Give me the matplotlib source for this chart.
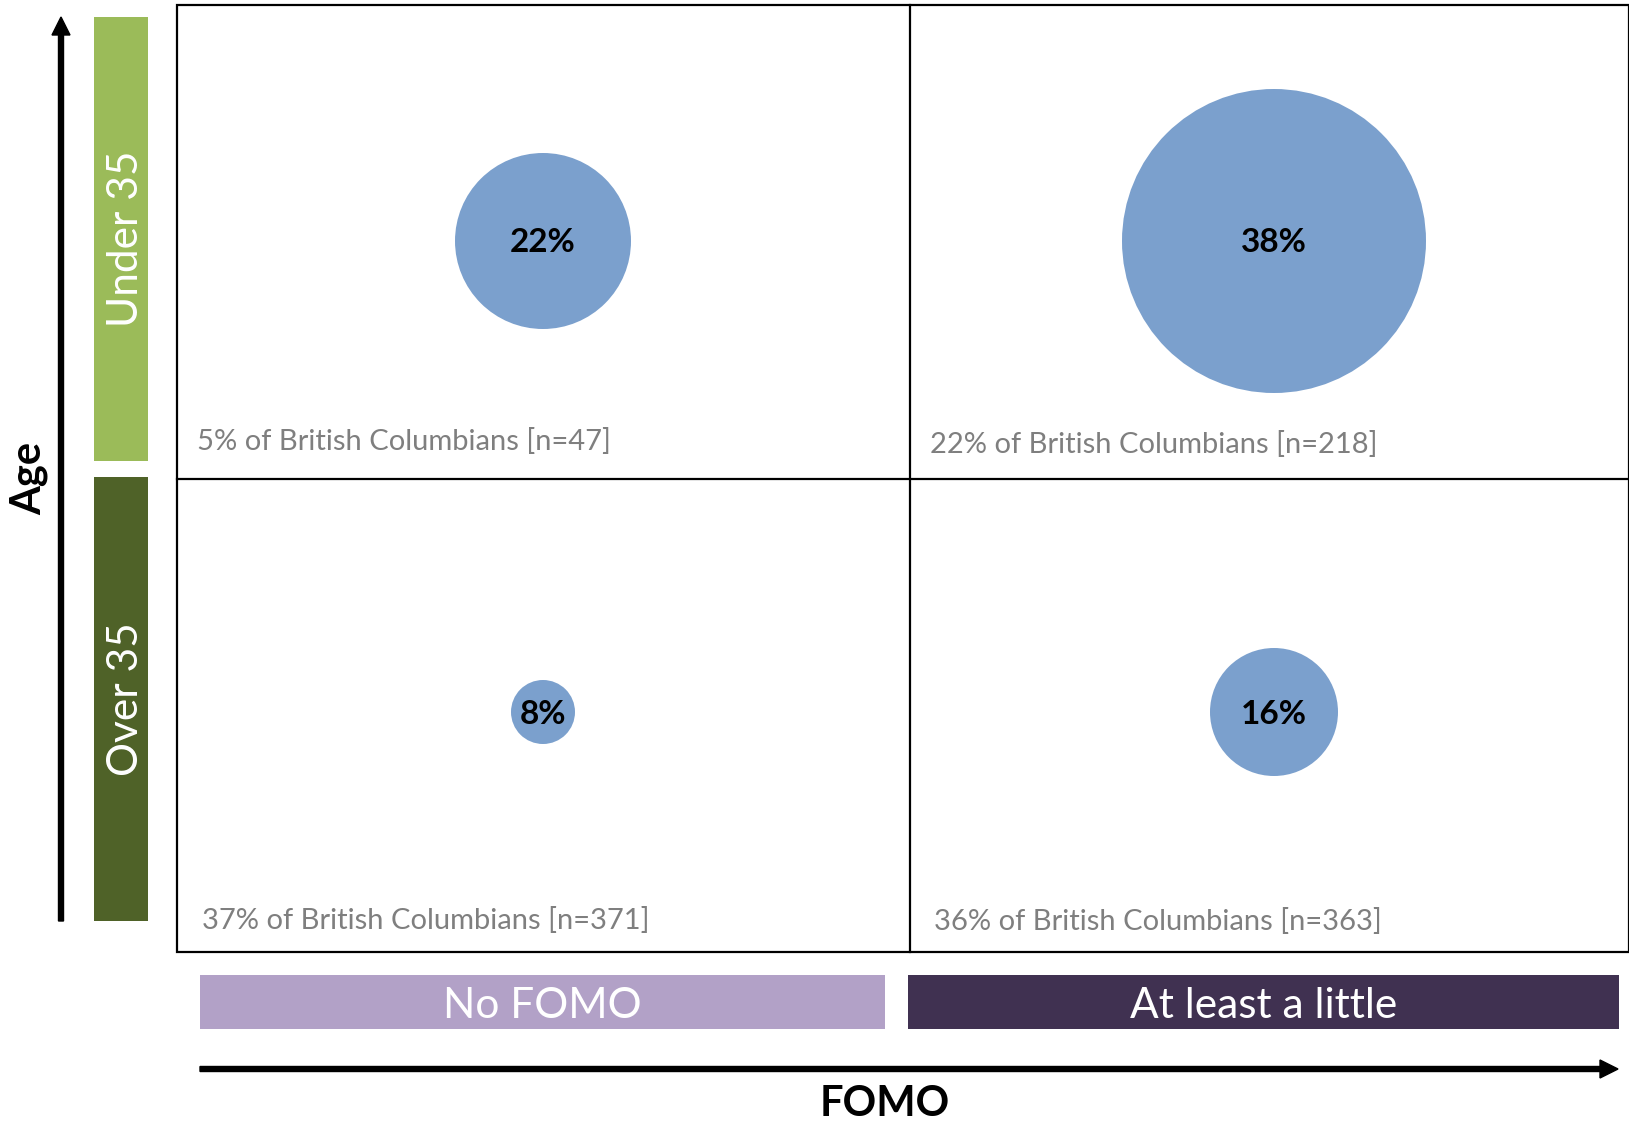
import matplotlib
matplotlib.use('Agg')
import matplotlib.pyplot as plt
from matplotlib.patches import Rectangle, Circle

plt.rcParams['font.family'] = ['Lato', 'DejaVu Sans']

# data
fomo_cats = ['No FOMO', 'At least a little']
age_cats = ['Under 35', 'Over 35']
# share within age group with each FOMO level, rows = age, cols = fomo
pct = [[22, 38],
       [8, 16]]
pop_share = [[5, 22],
             [37, 36]]
n_resp = [[47, 218],
          [371, 363]]

# layout (pixels, figure is 1629 x 1124)
W, H = 1629, 1124
col_x = [543, 1274]
row_y = [241, 712]
grid_l, grid_r, grid_t, grid_b = 177, 1629, 5, 952
grid_mx, grid_my = 910, 479
r_per_pct = 4.0
age_cols = ['#9bbb59', '#4f6228']
fomo_cols = ['#b2a1c7', '#403151']
age_bars = [(17, 461), (477, 921)]
fomo_bars = [(200, 885), (908, 1619)]
note_pos = [[(197, 450), (930, 453)],
            [(202, 929), (934, 930)]]

fig = plt.figure(figsize=(W / 100, H / 100), dpi=100)
ax = fig.add_axes([0, 0, 1, 1])
ax.set_xlim(0, W)
ax.set_ylim(H, 0)
ax.axis('off')

# quadrant frame
ax.add_patch(Rectangle((grid_l, grid_t), grid_r - grid_l, grid_b - grid_t,
                       fill=False, lw=1.6, ec='black'))
ax.plot([grid_mx, grid_mx], [grid_t, grid_b], color='black', lw=1.6)
ax.plot([grid_l, grid_r], [grid_my, grid_my], color='black', lw=1.6)

for i in range(2):
    for j in range(2):
        ax.add_patch(Circle((col_x[j], row_y[i]), pct[i][j] * r_per_pct,
                            color='#7ba0cd', lw=0))
        ax.text(col_x[j], row_y[i] + 2, f'{pct[i][j]}%', ha='center', va='center',
                fontsize=24, fontweight='bold', color='black')
        nx, ny = note_pos[i][j]
        ax.text(nx, ny, f'{pop_share[i][j]}% of British Columbians [n={n_resp[i][j]}]',
                ha='left', va='baseline', fontsize=21, color='#7f7f7f')

# age category bars
for k, (y0, y1) in enumerate(age_bars):
    ax.add_patch(Rectangle((94, y0), 54, y1 - y0, color=age_cols[k], lw=0))
    ax.text(126, (y0 + y1) / 2, age_cats[k], rotation=90, ha='center', va='center',
            fontsize=30.5, color='white')

# fomo category bars
for k, (x0, x1) in enumerate(fomo_bars):
    ax.add_patch(Rectangle((x0, 975), x1 - x0, 54, color=fomo_cols[k], lw=0))
    ax.text((x0 + x1) / 2, 1006, fomo_cats[k], ha='center', va='center',
            fontsize=30.5, color='white')

# axis arrows
ax.arrow(61, 921, 0, 17 - 921, width=5, head_width=18, head_length=18,
         length_includes_head=True, color='black')
ax.arrow(200, 1069, 1618 - 200, 0, width=5, head_width=18, head_length=18,
         length_includes_head=True, color='black')

ax.text(29, 478, 'Age', rotation=90, ha='center', va='center',
        fontsize=30, fontweight='bold')
ax.text(885, 1104, 'FOMO', ha='center', va='center',
        fontsize=30, fontweight='bold')

fig.savefig('out.png', dpi=100)
